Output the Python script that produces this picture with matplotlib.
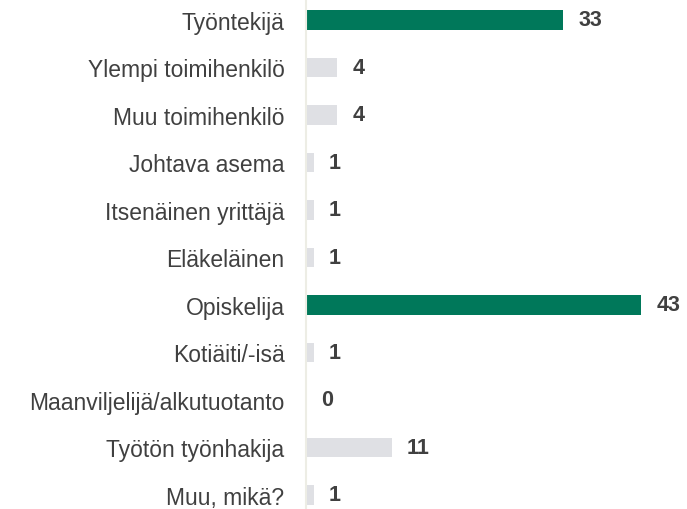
import matplotlib.pyplot as plt

plt.rcParams['font.family'] = ['Liberation Sans', 'DejaVu Sans']

categories = ['Työntekijä', 'Ylempi toimihenkilö', 'Muu toimihenkilö', 'Johtava asema',
              'Itsenäinen yrittäjä', 'Eläkeläinen', 'Opiskelija', 'Kotiäiti/-isä',
              'Maanviljelijä/alkutuotanto', 'Työtön työnhakija', 'Muu, mikä?']
values = [33, 4, 4, 1, 1, 1, 43, 1, 0, 11, 1]
highlight = ['Työntekijä', 'Opiskelija']

green = '#00785A'
grey = '#DFE0E4'
text_col = '#404040'

fig = plt.figure(figsize=(6.87, 5.1), dpi=100)
ax = fig.add_axes([306 / 687, 0, 1 - 306 / 687, 1])

colors = [green if c in highlight else grey for c in categories]
y = range(len(categories))
ax.barh(y, values, height=0.42, color=colors)

# value labels to the right of each bar
for i, v in enumerate(values):
    ax.annotate(str(v), (v, i), xytext=(11, 0), textcoords='offset points',
                ha='left', va='center', fontsize=15.5, fontweight='bold', color=text_col)

ax.set_yticks(list(y))
ax.set_yticklabels(categories, fontsize=16.5, color=text_col)
ax.tick_params(axis='y', length=0, pad=15.5)
ax.set_xticks([])
ax.set_xlim(0, 48.9)
ax.set_ylim(10.295, -0.442)
for s in ['top', 'right', 'bottom']:
    ax.spines[s].set_visible(False)
ax.spines['left'].set_color('#EDEDE5')
ax.spines['left'].set_linewidth(1.5)

fig.savefig('out.png', dpi=100)
